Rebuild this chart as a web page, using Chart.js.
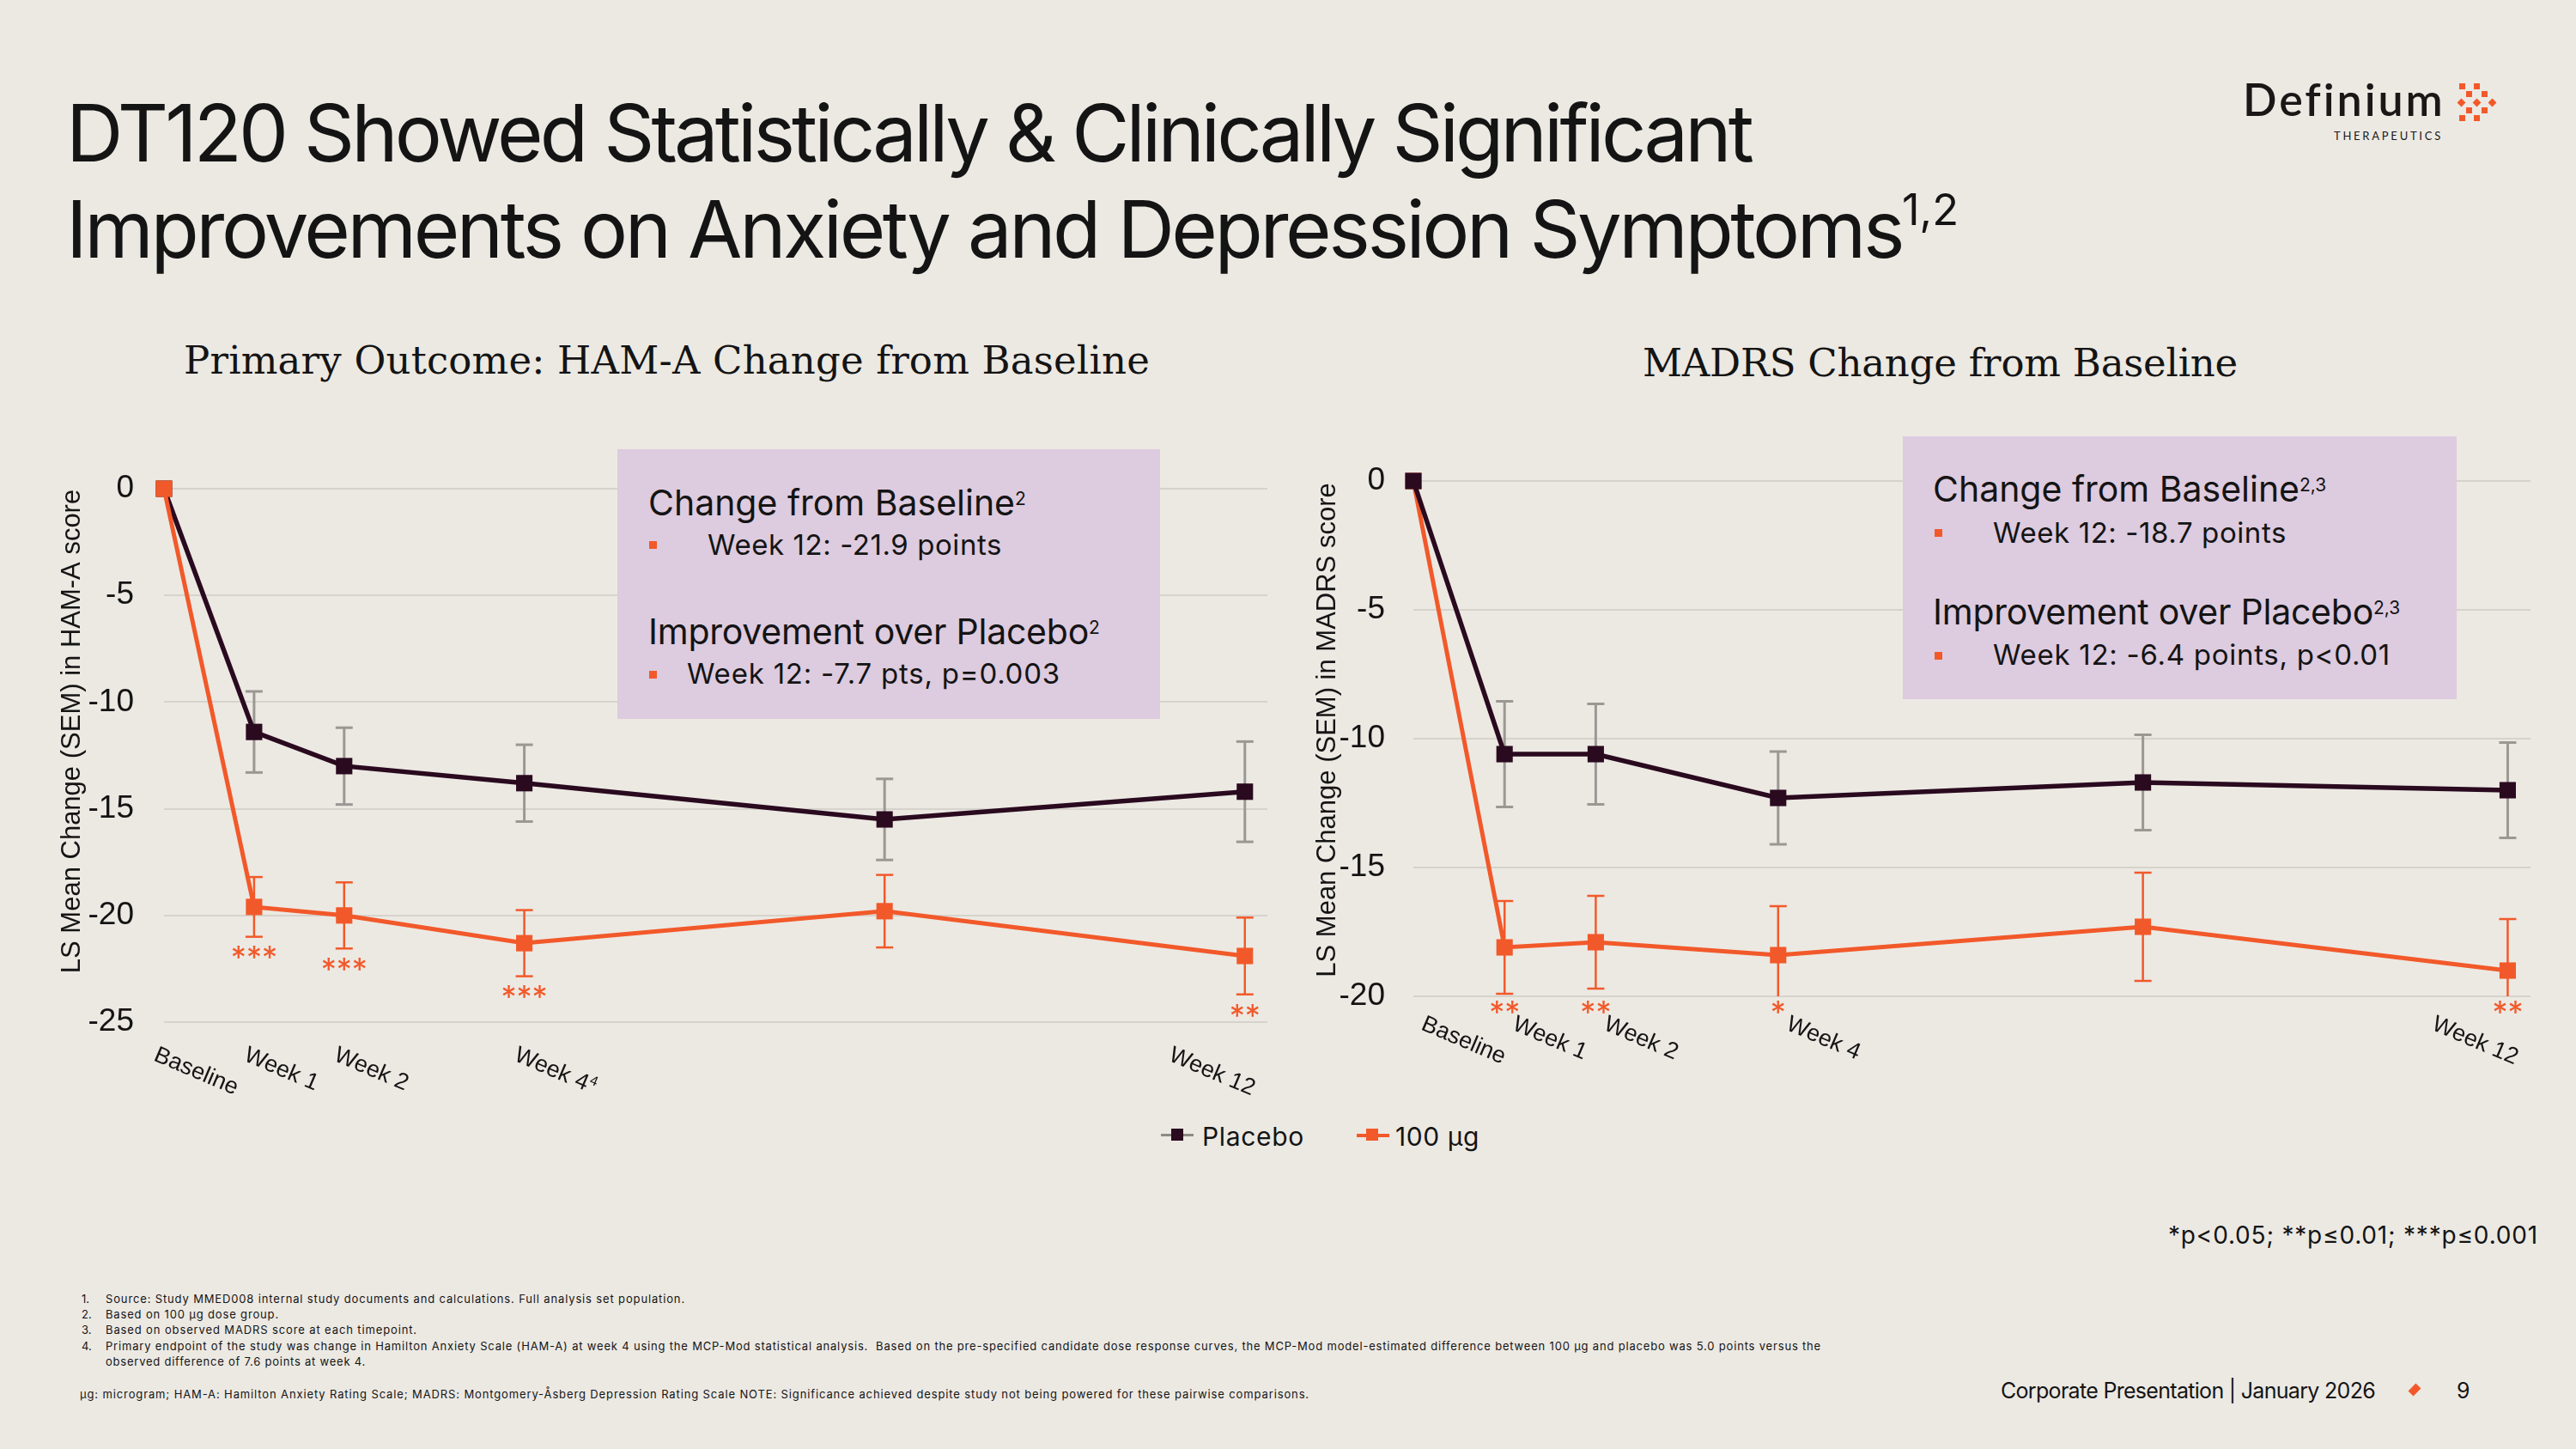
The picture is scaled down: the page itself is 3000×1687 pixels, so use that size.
<!DOCTYPE html>
<html>
<head>
<meta charset="utf-8">
<script src="https://cdn.jsdelivr.net/npm/chart.js@4.4.1/dist/chart.umd.min.js"></script>
<style>
html,body{margin:0;padding:0;background:#ECE9E3;}
#slide{position:relative;width:3000px;height:1687px;overflow:hidden;background:#ECE9E3;color:#141414;font-family:Inter,"Liberation Sans",sans-serif;}
.tx{position:absolute;white-space:nowrap;line-height:1;}
.tx sup{font-size:0.55em;line-height:0;vertical-align:0.75em;}
.box{position:absolute;background:#DDCBDF;}
.bul{position:absolute;width:9px;height:9px;background:#F2592A;}
canvas{position:absolute;}
.sq{position:absolute;width:7px;height:7px;background:#F2592A;}
.dm{position:absolute;width:7px;height:7px;background:#F2592A;transform:rotate(45deg);}
</style>
</head>
<body>
<div id="slide">
  <!-- title -->
  <div class="tx" data-x="77" data-b="188" data-w="1962" style="font-size:92px"><span class="t">DT120 Showed Statistically &amp; Clinically Significant</span></div>
  <div class="tx" data-x="77" data-b="300" data-w="2138" style="font-size:92px"><span class="t">Improvements on Anxiety and Depression Symptoms</span><sup>1,2</sup></div>

  <!-- logo -->
  <div class="tx" data-x="2612" data-b="135" data-w="235" style="font-family:Lato,Inter,sans-serif;font-size:52px;font-weight:600;color:#1b1717"><span class="t">Definium</span></div>
  <div class="tx" data-x="2718" data-b="163" data-w="127" style="font-family:Lato,Inter,sans-serif;font-size:13px;color:#1b1717"><span class="t">THERAPEUTICS</span></div>
  <div class="sq" style="left:2864px;top:97px"></div><div class="sq" style="left:2881px;top:97px"></div>
  <div class="sq" style="left:2872px;top:106px"></div><div class="sq" style="left:2890px;top:106px"></div>
  <div class="dm" style="left:2863px;top:116px"></div><div class="dm" style="left:2881px;top:116px"></div><div class="dm" style="left:2899px;top:116px"></div>
  <div class="sq" style="left:2872px;top:125px"></div><div class="sq" style="left:2890px;top:125px"></div>
  <div class="sq" style="left:2864px;top:134px"></div><div class="sq" style="left:2881px;top:134px"></div>

  <!-- chart subtitles -->
  <div class="tx" data-x="214" data-b="435" data-w="1125" style="font-family:'DejaVu Serif',serif;font-size:45px"><span class="t">Primary Outcome: HAM-A Change from Baseline</span></div>
  <div class="tx" data-x="1913" data-b="438" data-w="693" style="font-family:'DejaVu Serif',serif;font-size:45px"><span class="t">MADRS Change from Baseline</span></div>

  <canvas id="cHam" width="1500" height="820" style="left:0;top:480px;width:1500px;height:820px"></canvas>
  <canvas id="cMadrs" width="1500" height="820" style="left:1500px;top:480px;width:1500px;height:820px"></canvas>

  <!-- annotation boxes -->
  <div class="box" style="left:719px;top:523px;width:632px;height:314px"></div>
  <div class="tx" data-x="755" data-b="600" data-w="427" style="font-size:41px"><span class="t">Change from Baseline</span><sup style="font-size:21px;vertical-align:12px">2</sup></div>
  <div class="bul" style="left:756px;top:630px"></div>
  <div class="tx" data-x="824" data-b="646" data-w="343" style="font-size:33px"><span class="t">Week 12: -21.9 points</span></div>
  <div class="tx" data-x="755" data-b="750" data-w="513" style="font-size:41px"><span class="t">Improvement over Placebo</span><sup style="font-size:21px;vertical-align:12px">2</sup></div>
  <div class="bul" style="left:756px;top:781px"></div>
  <div class="tx" data-x="800" data-b="796" data-w="435" style="font-size:33px"><span class="t">Week 12: -7.7 pts, p=0.003</span></div>

  <div class="box" style="left:2216px;top:508px;width:645px;height:306px"></div>
  <div class="tx" data-x="2251" data-b="584" data-w="427" style="font-size:41px"><span class="t">Change from Baseline</span><sup style="font-size:21px;vertical-align:12px">2,3</sup></div>
  <div class="bul" style="left:2253px;top:616px"></div>
  <div class="tx" data-x="2321" data-b="632" data-w="342" style="font-size:33px"><span class="t">Week 12: -18.7 points</span></div>
  <div class="tx" data-x="2251" data-b="727" data-w="513" style="font-size:41px"><span class="t">Improvement over Placebo</span><sup style="font-size:21px;vertical-align:12px">2,3</sup></div>
  <div class="bul" style="left:2253px;top:759px"></div>
  <div class="tx" data-x="2321" data-b="774" data-w="463" style="font-size:33px"><span class="t">Week 12: -6.4 points, p&lt;0.01</span></div>

  <!-- legend -->
  <div style="position:absolute;left:1352px;top:1320px;width:38px;height:3px;background:#8E8A86"></div>
  <div style="position:absolute;left:1364px;top:1314px;width:14px;height:14px;background:#2A0A1F"></div>
  <div class="tx" data-x="1400" data-b="1334" data-w="119" style="font-size:30px"><span class="t">Placebo</span></div>
  <div style="position:absolute;left:1580px;top:1320px;width:38px;height:4px;background:#F2592A"></div>
  <div style="position:absolute;left:1591px;top:1314px;width:14px;height:14px;background:#F2592A"></div>
  <div class="tx" data-x="1625" data-b="1334" data-w="98" style="font-size:30px"><span class="t">100 µg</span></div>

  <div class="tx" data-x="2525" data-b="1448" data-w="431" style="font-size:28px"><span class="t">*p&lt;0.05; **p≤0.01; ***p≤0.001</span></div>

  <!-- footnotes -->
  <div class="tx" data-x="95" data-b="1517" style="font-size:13px">1.</div>
  <div class="tx" data-x="123" data-b="1517" data-w="675" style="font-size:13px"><span class="t">Source: Study MMED008 internal study documents and calculations. Full analysis set population.</span></div>
  <div class="tx" data-x="95" data-b="1535" style="font-size:13px">2.</div>
  <div class="tx" data-x="123" data-b="1535" data-w="202" style="font-size:13px"><span class="t">Based on 100 µg dose group.</span></div>
  <div class="tx" data-x="95" data-b="1553" style="font-size:13px">3.</div>
  <div class="tx" data-x="123" data-b="1553" data-w="363" style="font-size:13px"><span class="t">Based on observed MADRS score at each timepoint.</span></div>
  <div class="tx" data-x="95" data-b="1572" style="font-size:13px">4.</div>
  <div class="tx" data-x="123" data-b="1572" data-w="1998" style="font-size:13px"><span class="t">Primary endpoint of the study was change in Hamilton Anxiety Scale (HAM-A) at week 4 using the MCP-Mod statistical analysis.&nbsp; Based on the pre-specified candidate dose response curves, the MCP-Mod model-estimated difference between 100 µg and placebo was 5.0 points versus the</span></div>
  <div class="tx" data-x="123" data-b="1590" data-w="303" style="font-size:13px"><span class="t">observed difference of 7.6 points at week 4.</span></div>
  <div class="tx" data-x="93" data-b="1628" data-w="1432" style="font-size:13px"><span class="t">µg: microgram; HAM-A: Hamilton Anxiety Rating Scale; MADRS: Montgomery-Åsberg Depression Rating Scale NOTE: Significance achieved despite study not being powered for these pairwise comparisons.</span></div>

  <!-- footer -->
  <div class="tx" data-x="2330" data-b="1628" data-w="436" style="font-size:25px"><span class="t">Corporate Presentation | January 2026</span></div>
  <div style="position:absolute;left:2807px;top:1613px;width:10px;height:10px;background:#F2592A;transform:rotate(45deg) scale(0.85,1.25)"></div>
  <div class="tx" data-x="2861" data-b="1628" style="font-size:25px">9</div>
</div>

<script>
// ---------- data ----------
const weeks = [0, 1, 2, 4, 8, 12];
const weekLabels = ['Baseline', 'Week 1', 'Week 2', 'Week 4', '', 'Week 12'];
const hamWeekSup = ['', '', '', '4', '', ''];
const madrsWeekSup = ['', '', '', '', '', ''];

const hamPlacebo    = [0, -11.4, -13.0, -13.8, -15.5, -14.2];
const hamPlaceboSem = [0, 1.9, 1.8, 1.8, 1.9, 2.35];
const ham100        = [0, -19.6, -20.0, -21.3, -19.8, -21.9];
const ham100Sem     = [0, 1.4, 1.55, 1.55, 1.7, 1.8];
const hamStars      = ['', '***', '***', '***', '', '**'];
const hamYTicks     = [0, -5, -10, -15, -20, -25];

const madrsPlacebo    = [0, -10.6, -10.6, -12.3, -11.7, -12.0];
const madrsPlaceboSem = [0, 2.05, 1.95, 1.8, 1.85, 1.85];
const madrs100        = [0, -18.1, -17.9, -18.4, -17.3, -19.0];
const madrs100Sem     = [0, 1.8, 1.8, 1.9, 2.1, 2.0];
const madrsStars      = ['', '**', '**', '*', '', '**'];
const madrsYTicks     = [0, -5, -10, -15, -20];

const seriesNames = ['Placebo', '100 µg'];

// ---------- text layout ----------
function layoutText() {
  document.querySelectorAll('.tx').forEach(el => {
    const t = el.querySelector('.t');
    if (t && el.dataset.w) {
      t.style.letterSpacing = '0px';
      const w = t.getBoundingClientRect().width;
      const n = [...t.textContent].length;
      t.style.letterSpacing = ((+el.dataset.w - w) / n) + 'px';
    }
    el.style.left = el.dataset.x + 'px';
    const p = document.createElement('span');
    p.style.cssText = 'display:inline-block;width:0;height:0;vertical-align:baseline;';
    el.appendChild(p);
    const off = p.offsetTop;
    el.removeChild(p);
    el.style.top = (+el.dataset.b - off) + 'px';
  });
}
layoutText();

// ---------- chart ----------
const PLACEBO = '#2A0A1F', ORANGE = '#F2592A', ERR_GREY = '#9B9894', GRID = '#D6D3CD';
const LABEL_FONT = '"Liberation Sans", Arial, sans-serif';
const ROT = 23 * Math.PI / 180;

const extrasPlugin = {
  id: 'extras',
  beforeDatasetsDraw(chart) {
    const o = chart.options.plugins.extras;
    const { ctx, chartArea: a } = chart;
    const xs = chart.scales.x, ys = chart.scales.y;
    ctx.save();
    ctx.beginPath();
    ctx.rect(a.left - 40, a.top - 40, a.right - a.left + 80, a.bottom - a.top + 40);
    ctx.clip();
    o.bars.forEach(b => {
      ctx.strokeStyle = b.color;
      ctx.lineWidth = b.width;
      weeks.forEach((wk, i) => {
        const s = b.sem[i];
        if (!s) return;
        const x = xs.getPixelForValue(wk);
        const y1 = ys.getPixelForValue(b.mean[i] + s);
        const y2 = ys.getPixelForValue(b.mean[i] - s);
        ctx.beginPath(); ctx.moveTo(x, y1); ctx.lineTo(x, y2); ctx.stroke();
        [y1, y2].forEach(y => {
          if (y <= a.bottom + 0.5) {
            ctx.beginPath(); ctx.moveTo(x - o.cap, y); ctx.lineTo(x + o.cap, y); ctx.stroke();
          }
        });
      });
    });
    ctx.restore();
  },
  afterDraw(chart) {
    const o = chart.options.plugins.extras;
    const { ctx, chartArea: a } = chart;
    const xs = chart.scales.x, ys = chart.scales.y;
    ctx.save();
    ctx.fillStyle = '#141414';
    // y axis title
    ctx.save();
    ctx.font = '31px ' + LABEL_FONT;
    ctx.textAlign = 'center';
    ctx.textBaseline = 'middle';
    ctx.translate(ys.left + 24, (a.top + a.bottom) / 2 + o.titleDy);
    ctx.rotate(-Math.PI / 2);
    ctx.fillText(o.yTitle, 0, 0);
    ctx.restore();
    // rotated category labels
    weeks.forEach((wk, i) => {
      const lab = weekLabels[i];
      if (!lab) return;
      const x = xs.getPixelForValue(wk);
      ctx.font = '27px ' + LABEL_FONT;
      const w = ctx.measureText(lab).width;
      ctx.font = '16px ' + LABEL_FONT;
      const ws = o.sup[i] ? ctx.measureText(o.sup[i]).width + 1 : 0;
      const ext = (w + ws) * Math.cos(ROT) + 27 * Math.sin(ROT);
      let x0 = x + o.labelDx;
      if (x0 + ext > a.right) x0 = a.right - ext;
      ctx.save();
      ctx.translate(x0, a.bottom + o.labelDy);
      ctx.rotate(ROT);
      ctx.font = '27px ' + LABEL_FONT;
      ctx.textAlign = 'left';
      ctx.textBaseline = 'top';
      ctx.fillText(lab, 0, 0);
      if (o.sup[i]) {
        ctx.font = '16px ' + LABEL_FONT;
        ctx.fillText(o.sup[i], w + 1, -1);
      }
      ctx.restore();
    });
    // significance stars
    ctx.fillStyle = ORANGE;
    ctx.font = '36px Inter, "Liberation Sans", sans-serif';
    ctx.textAlign = 'center';
    ctx.textBaseline = 'top';
    weeks.forEach((wk, i) => {
      const st = o.stars[i];
      if (!st) return;
      const x = xs.getPixelForValue(wk);
      let y;
      if (o.starMode === 'belowBar') y = ys.getPixelForValue(o.starMean[i] - o.starSem[i]) + 8;
      else y = a.bottom + 2;
      ctx.fillText(st, x, y);
    });
    ctx.restore();
  }
};

function makeChart(id, cfg) {
  const ds = (name, vals, color, width, order) => ({
    label: name,
    data: weeks.map((w, i) => ({ x: w, y: vals[i] })),
    borderColor: color, backgroundColor: color,
    borderWidth: width, tension: 0,
    pointStyle: 'rect', pointRadius: 13.5, pointHoverRadius: 13.5,
    pointBorderWidth: 0, pointBackgroundColor: color,
    clip: false, order: order
  });
  return new Chart(document.getElementById(id), {
    type: 'line',
    data: {
      datasets: [
        ds(seriesNames[0], cfg.placebo, PLACEBO, 5.5, cfg.placeboOrder),
        ds(seriesNames[1], cfg.dose, ORANGE, 5, cfg.doseOrder)
      ]
    },
    options: {
      responsive: false,
      animation: false,
      events: [],
      layout: { padding: cfg.padding },
      plugins: {
        legend: { display: false },
        tooltip: { enabled: false },
        extras: {
          bars: [
            { mean: cfg.placebo, sem: cfg.placeboSem, color: ERR_GREY, width: 3 },
            { mean: cfg.dose, sem: cfg.doseSem, color: ORANGE, width: 2.5 }
          ],
          cap: 10,
          stars: cfg.stars, starMode: cfg.starMode,
          starMean: cfg.dose, starSem: cfg.doseSem,
          sup: cfg.sup, labelDx: cfg.labelDx, labelDy: cfg.labelDy,
          yTitle: cfg.yTitle, titleDy: cfg.titleDy
        }
      },
      scales: {
        x: {
          type: 'linear', min: 0, max: 12.25,
          grid: { display: false, drawTicks: false },
          border: { display: false },
          ticks: { display: false },
          afterFit(s) { s.height = 0; }
        },
        y: {
          type: 'linear', min: cfg.yTicks[cfg.yTicks.length - 1], max: 0,
          grid: { color: GRID, lineWidth: 2, drawTicks: false },
          border: { display: false },
          ticks: {
            color: '#141414', padding: cfg.tickPad,
            font: { family: LABEL_FONT, size: 37 },
            callback: v => String(v)
          },
          afterBuildTicks(s) { s.ticks = cfg.yTicks.map(v => ({ value: v })); },
          afterFit(s) { s.width = cfg.yWidth; },
          title: { display: false }
        }
      }
    },
    plugins: [extrasPlugin]
  });
}

makeChart('cHam', {
  placebo: hamPlacebo, placeboSem: hamPlaceboSem,
  dose: ham100, doseSem: ham100Sem,
  stars: hamStars, starMode: 'belowBar', sup: hamWeekSup,
  yTicks: hamYTicks, yTitle: 'LS Mean Change (SEM) in HAM-A score', titleDy: -28,
  padding: { left: 60, right: 24, top: 89, bottom: 110 },
  yWidth: 131, tickPad: 35, labelDx: -5, labelDy: 25,
  placeboOrder: 1, doseOrder: 0
});

makeChart('cMadrs', {
  placebo: madrsPlacebo, placeboSem: madrsPlaceboSem,
  dose: madrs100, doseSem: madrs100Sem,
  stars: madrsStars, starMode: 'belowAxis', sup: madrsWeekSup,
  yTicks: madrsYTicks, yTitle: 'LS Mean Change (SEM) in MADRS score', titleDy: -10,
  padding: { left: 22, right: 53, top: 80, bottom: 140 },
  yWidth: 124, tickPad: 33, labelDx: 16, labelDy: 19,
  placeboOrder: 0, doseOrder: 1
});

if (document.fonts && document.fonts.ready) document.fonts.ready.then(layoutText);
</script>
</body>
</html>
